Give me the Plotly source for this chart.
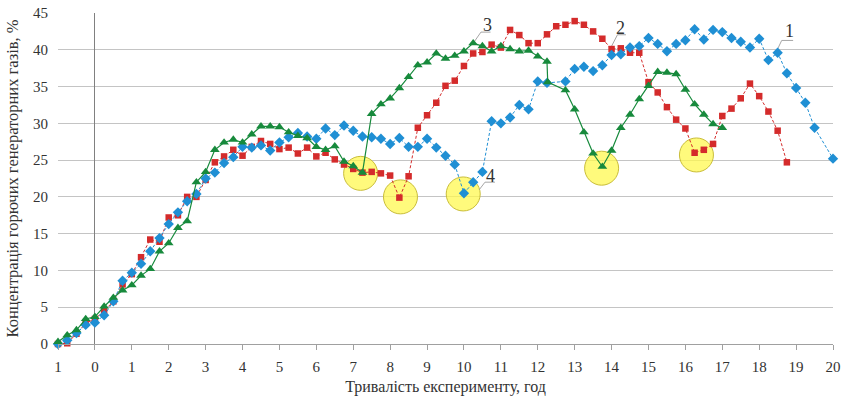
import plotly.graph_objects as go


def steps(a, b):
    n = int(round((b - a) / 0.25))
    return [a + 0.25 * i for i in range(n + 1)]


# ---- axis ticks ----
x_tick_vals = list(range(-1, 21))
x_tick_labels = ["1"] + [str(v) for v in range(0, 21)]
y_tick_vals = list(range(0, 50, 5))

# ---- series 1 (blue) ----
t_blue = [t for t in steps(-1, 20) if t not in (12.5, 19.75)]
c_blue = [0, 0.5, 1.5, 2.6, 2.9, 3.9, 5.8, 8.6, 9.7, 10.9, 12.6, 14.4, 16.3, 17.9, 19.4,
          20.4, 22.5, 23.3, 24.6, 25.4, 26.8, 26.7, 27.0, 26.3, 27.4, 28.1, 28.7, 28.2, 27.9,
          29.3, 28.4, 29.7, 29.0, 28.2, 28.1, 27.9, 27.2, 28.0, 26.8, 26.8, 27.9, 26.7, 25.6,
          24.4, 20.5, 22.0, 23.4, 30.3, 30.0, 30.8, 32.5, 31.9, 35.7, 35.5,
          35.7, 37.4, 37.7, 37.1, 37.9, 39.3, 39.4, 40.3, 40.5, 41.6, 40.8, 39.8, 40.8, 41.3,
          42.8, 41.4, 42.7, 42.4, 41.6, 41.1, 40.3, 41.5, 38.6, 39.6, 36.8, 34.8, 32.8, 29.4,
          25.2]

# ---- series 2 (red) ----
t_red = steps(-1, 18.75)
c_red = [0, 0.1, 1.4, 2.8, 3.4, 4.5, 5.8, 8.1, 9.5, 11.8, 14.2, 13.9, 17.2, 17.5, 20.0, 20.0,
         22.3, 24.7, 25.5, 26.4, 25.6, 26.8, 27.6, 27.2, 26.5, 26.7, 25.9, 26.7, 25.5,
         26.0, 25.1, 24.4, 23.8, 23.3, 23.4, 23.2, 22.9, 19.9, 22.8, 29.4, 31.1, 32.8, 35.1,
         35.8, 37.8, 39.5, 39.7, 40.7, 40.3, 42.7, 42.0, 40.9, 40.9, 42.1,
         43.2, 43.4, 43.9, 43.4, 42.5, 41.5, 40.1, 40.2, 39.6, 39.6, 35.6, 34.2, 32.2, 30.5,
         29.3, 26.0, 26.4, 27.2, 31.0, 32.0, 33.4, 35.4, 33.7, 31.6, 29.0, 24.7]

# ---- series 3 (green) ----
t_green = steps(-1, 12.25) + [12.27] + steps(12.75, 17)
c_green = [0.3, 1.2, 1.9, 3.4, 3.7, 5.1, 6.3, 7.3, 8.0, 9.3, 10.2, 12.6, 13.7, 15.8, 16.7, 22.0,
           23.4, 26.4, 27.4, 27.8, 27.4, 28.5, 29.6, 29.6, 29.5, 28.8, 28.3, 28.0, 26.8,
           26.4, 26.9, 24.8, 24.2, 23.3, 31.3, 32.6, 33.4, 34.8, 36.3, 37.9, 38.3, 39.5, 38.8,
           39.2, 39.8, 40.9, 40.5, 39.8, 40.5, 40.1, 39.8, 39.9, 39.1, 38.4,
           35.6,
           34.5, 31.9, 28.8, 25.9, 24.1, 26.3, 29.4, 31.2, 33.3, 35.1, 37.0, 36.9, 36.7, 34.6,
           32.6, 31.2, 29.9, 29.4]

# ---- highlighted minima (yellow circles) ----
circle_x = [7.2, 8.28, 9.98, 13.73, 16.3]
circle_y = [23.2, 20.0, 20.4, 23.9, 25.7]

# ---- curve labels and leader lines ----
label_text = ["1", "2", "3", "4"]
label_x = [18.83, 14.25, 10.63, 10.73]
label_y = [42.6, 43.0, 43.4, 22.9]
leader_x = [[18.92, 18.61, 18.47], [14.39, 14.16, 13.96], [10.72, 10.46, 10.28], [10.84, 10.57, 10.41]]
leader_y = [[41.27, 41.27, 39.8], [42.04, 42.04, 40.1], [42.4, 42.4, 41.1], [22.0, 22.0, 20.95]]

FONT = "Liberation Serif"
BLUE = "#1f8fd4"
RED = "#d42b2b"
GREEN = "#178a3c"

fig = go.Figure()

fig.add_trace(go.Scatter(
    x=circle_x, y=circle_y, mode="markers", hoverinfo="skip", cliponaxis=False,
    marker=dict(symbol="circle", size=34, color="rgba(255,248,80,0.75)",
                line=dict(color="#c9bd3a", width=1)),
))

for lx, ly in zip(leader_x, leader_y):
    fig.add_trace(go.Scatter(x=lx, y=ly, mode="lines", hoverinfo="skip",
                             line=dict(color="#a6a6a6", width=1)))

fig.add_trace(go.Scatter(
    x=t_red, y=c_red, mode="lines+markers", cliponaxis=False,
    line=dict(color=RED, width=1, dash="3px,2px"),
    marker=dict(symbol="square", size=6.5, color=RED),
))
fig.add_trace(go.Scatter(
    x=t_blue, y=c_blue, mode="lines+markers", cliponaxis=False,
    line=dict(color=BLUE, width=1, dash="3px,2px"),
    marker=dict(symbol="diamond", size=8, color=BLUE),
))
fig.add_trace(go.Scatter(
    x=t_green, y=c_green, mode="lines+markers", cliponaxis=False,
    line=dict(color=GREEN, width=1.2),
    marker=dict(symbol="triangle-up", size=8.5, color=GREEN),
))

for t, x, y in zip(label_text, label_x, label_y):
    fig.add_annotation(x=x, y=y, text=t, showarrow=False,
                       font=dict(family=FONT, size=18, color="#333333"))

fig.update_layout(
    width=843, height=400,
    margin=dict(l=58, r=10, t=13, b=56),
    paper_bgcolor="white", plot_bgcolor="white",
    showlegend=False,
    font=dict(family=FONT, size=15, color="#333333"),
    xaxis=dict(
        range=[-1, 20], tickmode="array", tickvals=x_tick_vals, ticktext=x_tick_labels,
        showgrid=False, showline=True, linecolor="#a0a0a0", linewidth=1,
        ticks="outside", ticklen=5, tickcolor="#a0a0a0",
        zeroline=True, zerolinecolor="#808080", zerolinewidth=1,
        ticklabelstandoff=4, automargin=False,
        title=dict(text="Тривалість експерименту, год", font=dict(family=FONT, size=16),
                   standoff=6),
    ),
    yaxis=dict(
        range=[0, 45], tickmode="array", tickvals=y_tick_vals,
        showgrid=True, gridcolor="#c4c4c4", gridwidth=1,
        zeroline=False, showline=False, ticks="",
        ticklabelstandoff=9, automargin=False,
        title=dict(text="Концентрація горючих генераторних газів, %",
                   font=dict(family=FONT, size=16.5), standoff=10),
    ),
)

fig.write_html(
    "out.html",
    config={"displayModeBar": False},
    post_script="document.body.style.margin='0';document.body.style.overflow='hidden';",
)
